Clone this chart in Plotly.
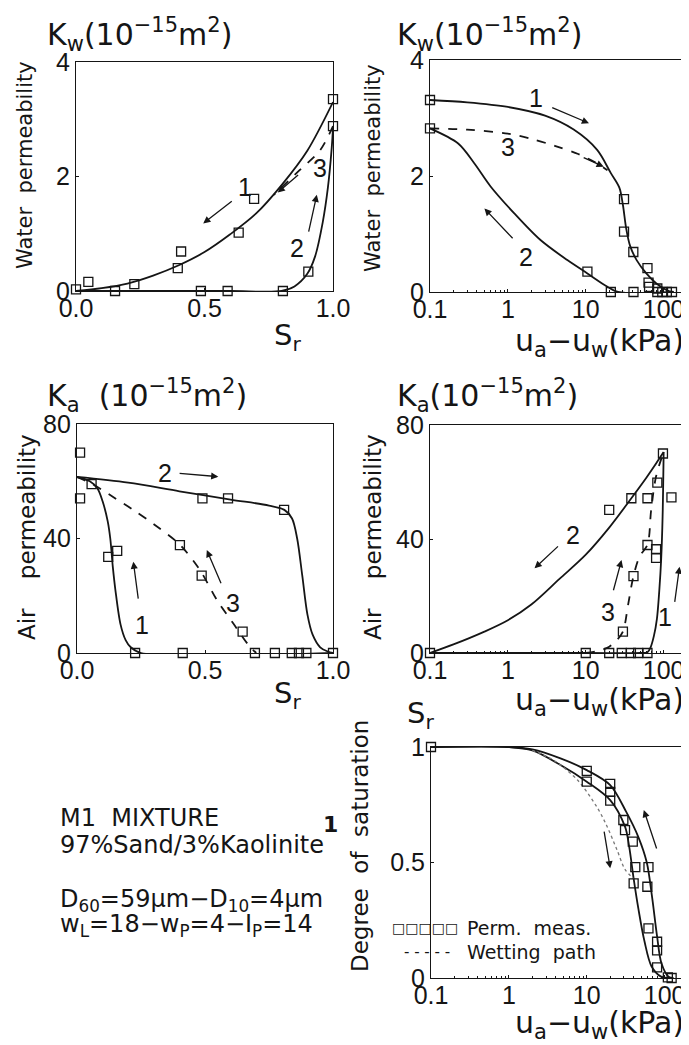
import math
import plotly.graph_objects as go

# page pixel frame of the reference picture
PAGE_W, PAGE_H = 689, 1045
BODY = 8  # default page margin around the plot div
W, H = PAGE_W - BODY, PAGE_H - BODY

# ---------------- Panel A: Kw vs Sr ----------------
a_meas_sr = [0.0, 0.048, 0.152, 0.227, 0.396, 0.409, 0.486, 0.59, 0.633, 0.693, 0.805, 0.904, 1.0, 1.0]
a_meas_k = [0.03, 0.16, 0.0, 0.12, 0.40, 0.69, 0.0, 0.0, 1.02, 1.61, 0.0, 0.34, 3.35, 2.88]
a_c1_sr = [0, 0.1, 0.2, 0.3, 0.4, 0.5, 0.6, 0.7, 0.8, 0.9, 1.0]
a_c1_k = [0, 0.05, 0.13, 0.27, 0.45, 0.68, 0.99, 1.35, 1.85, 2.45, 3.3]
a_c2_sr = [0, 0.3, 0.6, 0.8, 0.85, 0.9, 0.93, 0.96, 0.98, 0.995, 1.0]
a_c2_k = [0, 0, 0, 0, 0.08, 0.3, 0.6, 1.2, 1.8, 2.5, 2.85]
a_c3_sr = [1.0, 0.95, 0.87, 0.77]
a_c3_k = [2.88, 2.46, 2.11, 1.68]

# ---------------- Panel B: Kw vs suction ----------------
b_meas_s = [0.1, 0.1, 31, 31, 40.8, 62, 64, 65, 10.5, 21, 41, 83, 83, 96, 110, 128]
b_meas_k = [3.31, 2.82, 1.60, 1.04, 0.69, 0.41, 0.16, 0.09, 0.35, 0, 0, 0.06, 0, 0, 0, 0]
b_c1_s = [0.1, 0.3, 1, 3, 7, 14, 21, 27, 30, 33, 37, 45, 60, 80, 110, 135]
b_c1_k = [3.31, 3.27, 3.19, 3.04, 2.8, 2.45, 2.05, 1.8, 1.5, 1.1, 0.8, 0.55, 0.32, 0.15, 0.03, 0]
b_c2_s = [0.1, 0.23, 0.37, 0.6, 1.2, 2.6, 5.8, 10.5, 19, 26, 130]
b_c2_k = [2.82, 2.56, 2.22, 1.82, 1.36, 0.9, 0.55, 0.32, 0.09, 0.0, 0.0]
b_c3_s = [0.1, 0.3, 1, 2, 4, 8, 13, 19]
b_c3_k = [2.82, 2.8, 2.73, 2.64, 2.52, 2.38, 2.24, 2.1]

# ---------------- Panel C: Ka vs Sr ----------------
c_meas_sr = [0.012, 0.012, 0.057, 0.122, 0.157, 0.227, 0.402, 0.413, 0.487, 0.49, 0.59, 0.647, 0.695, 0.773, 0.809, 0.839, 0.867, 0.896, 1.0]
c_meas_k = [70, 54, 59, 33.6, 35.7, 0, 37.7, 0, 27, 54, 54, 7.5, 0, 0, 50, 0, 0, 0, 0]
c_c1_sr = [0, 0.05, 0.08, 0.1, 0.12, 0.13, 0.14, 0.15, 0.17, 0.19, 0.21, 0.25, 1.0]
c_c1_k = [61.5, 60, 57.5, 53, 46, 40, 30, 22, 10, 4.5, 2, 0, 0]
c_c2_sr = [0, 0.2, 0.4, 0.6, 0.75, 0.81, 0.84, 0.86, 0.88, 0.9, 0.92, 0.95, 0.98, 1.0]
c_c2_k = [61.5, 59.5, 56.5, 53.6, 51.5, 50, 47, 40, 27, 13.5, 6.5, 2, 0.5, 0]
c_c3_sr = [0, 0.06, 0.15, 0.22, 0.3, 0.4, 0.48, 0.55, 0.61, 0.67, 0.7]
c_c3_k = [61.5, 59, 54, 50, 45, 38, 29, 18, 10.4, 2.8, 0]

# ---------------- Panel D: Ka vs suction ----------------
d_meas_s = [0.1, 98, 83, 38.5, 62, 126, 20, 62, 80, 80, 41, 30, 10, 20, 29, 38, 47, 62]
d_meas_k = [0, 70, 59.8, 54.3, 54.3, 54.6, 50.2, 37.9, 36.4, 33.4, 27, 7.5, 0, 0, 0, 0, 0, 0]
d_c1_s = [0.1, 10, 50, 62, 68, 75, 82, 88, 93, 97, 100]
d_c1_k = [0, 0, 0, 0.3, 2, 6, 12, 22, 33, 48, 70.5]
d_c2_s = [0.1, 0.2, 0.5, 1, 2, 4.6, 10, 20, 38.5, 60, 80, 100]
d_c2_k = [0, 3, 7.5, 11.5, 17, 26, 34.5, 44, 54.3, 61.5, 66.5, 70.5]
d_c3_s = [10, 15, 20, 25, 30, 35, 41, 49, 62, 69, 80, 100]
d_c3_k = [0, 0.8, 2.2, 4.5, 7.5, 17, 27, 33.8, 38, 50, 62, 70.5]

# ---------------- Panel E: Sr vs suction ----------------
e_meas_s = [0.1, 10, 10, 20, 20, 20, 29.5, 31, 39, 42, 40, 62, 60, 62, 80, 80, 80, 110, 123]
e_meas_sr = [1.0, 0.897, 0.85, 0.84, 0.806, 0.768, 0.684, 0.64, 0.59, 0.48, 0.41, 0.48, 0.395, 0.215, 0.157, 0.12, 0.046, 0.003, 0.0]
e_dry_s = [0.1, 1, 2, 4.6, 10, 20, 32, 46, 59, 69, 80, 91, 112, 130]
e_dry_sr = [1, 1, 0.99, 0.951, 0.9, 0.835, 0.72, 0.61, 0.5, 0.35, 0.18, 0.064, 0.006, 0]
e_wet_s = [0.1, 1, 2, 4.6, 10, 20, 31, 35, 40, 46, 55, 68, 90, 120]
e_wet_sr = [1, 1, 0.985, 0.922, 0.85, 0.77, 0.655, 0.57, 0.43, 0.3, 0.16, 0.05, 0.006, 0]
e_path_s = [2, 3.7, 7.6, 13.5, 18, 24.5, 31, 40]
e_path_sr = [0.985, 0.944, 0.857, 0.74, 0.66, 0.554, 0.47, 0.43]

lin_ticks = [0, 0.5, 1.0]
lin_ticktext = ["0.0", "0.5", "1.0"]
log_ticks = [0.1, 1, 10, 100]
log_ticktext = ["0.1", "1", "10", "100"]
log_minor = [m * 10.0 ** e for e in (-1, 0, 1) for m in range(2, 10)] + [200]

INK = "#151515"
FONT = "DejaVu Sans"
TICKFONT = "Liberation Sans"


def fx(px):
    return (px - BODY) / W


def fy(py):
    return 1 - (py - BODY) / H


fig = go.Figure()


def curve(x, y, xa, ya, dash="solid", color=INK, width=1.8):
    fig.add_trace(go.Scatter(x=x, y=y, mode="lines", xaxis=xa, yaxis=ya,
                             line=dict(color=color, width=width, dash=dash, shape="spline", smoothing=0.9),
                             showlegend=False, hoverinfo="skip", cliponaxis=False))


def meas(x, y, xa, ya):
    fig.add_trace(go.Scatter(x=x, y=y, mode="markers", xaxis=xa, yaxis=ya,
                             marker=dict(symbol="square-open", size=9, color=INK, line=dict(width=1.3, color=INK)),
                             showlegend=False, hoverinfo="skip", cliponaxis=False))


# Panel A
curve(a_c1_sr, a_c1_k, "x", "y")
curve(a_c2_sr, a_c2_k, "x", "y")
curve(a_c3_sr, a_c3_k, "x", "y", dash="dash")
meas(a_meas_sr, a_meas_k, "x", "y")
# Panel B
curve(b_c1_s, b_c1_k, "x2", "y2")
curve(b_c2_s, b_c2_k, "x2", "y2")
curve(b_c3_s, b_c3_k, "x2", "y2", dash="dash")
meas(b_meas_s, b_meas_k, "x2", "y2")
# Panel C
curve(c_c1_sr, c_c1_k, "x3", "y3")
curve(c_c2_sr, c_c2_k, "x3", "y3")
curve(c_c3_sr, c_c3_k, "x3", "y3", dash="dash")
meas(c_meas_sr, c_meas_k, "x3", "y3")
# Panel D
curve(d_c1_s, d_c1_k, "x4", "y4")
curve(d_c2_s, d_c2_k, "x4", "y4")
curve(d_c3_s, d_c3_k, "x4", "y4", dash="dash")
meas(d_meas_s, d_meas_k, "x4", "y4")
# Panel E
curve(e_dry_s, e_dry_sr, "x5", "y5")
curve(e_wet_s, e_wet_sr, "x5", "y5")
curve(e_path_s, e_path_sr, "x5", "y5", dash="dot", color="#777", width=1.3)
meas(e_meas_s, e_meas_sr, "x5", "y5")

domains = {
    1: ((76, 333), (62, 291)),
    2: ((430, 687), (60, 292)),
    3: ((77, 333), (424, 653)),
    4: ((430, 687), (425, 653)),
    5: ((431, 688), (747, 978)),
}

layout = dict(width=W, height=H, autosize=False,
              margin=dict(l=0, r=0, t=0, b=0, pad=0, autoexpand=False),
              paper_bgcolor="white", plot_bgcolor="white", showlegend=False,
              font=dict(family=FONT, color=INK))

yranges = {1: [0, 4], 2: [0, 4], 3: [0, 80], 4: [0, 80], 5: [0, 1]}
yticks = {1: [0, 2, 4], 2: [0, 2, 4], 3: [0, 40, 80], 4: [0, 40, 80], 5: [0, 0.5, 1]}
yticktext = {1: ["0", "2", "4"], 2: ["0", "2", "4"], 3: ["0", "40", "80"], 4: ["0", "40", "80"], 5: ["0", "0.5", "1"]}

for i, ((x0, x1), (y0, y1)) in domains.items():
    sfx = "" if i == 1 else str(i)
    is_log = i in (2, 4, 5)
    xa = dict(domain=[fx(x0), min(1.0, fx(x1))], anchor="y" + sfx, showgrid=False, zeroline=False,
              showline=True, linecolor=INK, linewidth=1.2, mirror=True, automargin=False,
              ticks="inside", ticklen=3, tickcolor=INK, ticklabelstandoff=-5,
              tickfont=dict(family=TICKFONT, size=25, color=INK))
    if is_log:
        xa.update(type="log", range=[-1, 2.3], tickvals=log_ticks, ticktext=log_ticktext,
                  minor=dict(tickmode="array", tickvals=log_minor, ticks="inside", ticklen=2,
                             tickcolor=INK, showgrid=False))
    else:
        xa.update(range=[0, 1.0], tickvals=lin_ticks, ticktext=lin_ticktext)
    ya = dict(domain=[fy(y1), fy(y0)], anchor="x" + sfx, showgrid=False, zeroline=False,
              showline=True, linecolor=INK, linewidth=1.2, mirror=True, automargin=False,
              ticks="inside", ticklen=3, tickcolor=INK, range=yranges[i],
              tickvals=yticks[i], ticktext=yticktext[i],
              tickfont=dict(family=TICKFONT, size=25, color=INK))
    layout["xaxis" + sfx] = xa
    layout["yaxis" + sfx] = ya

fig.update_layout(**layout)

ann = []


def ptext(text, px, py, size, xanchor="left", yanchor="middle", angle=0, family=FONT):
    ann.append(dict(text=text, x=fx(px), y=fy(py), xref="paper", yref="paper",
                    xanchor=xanchor, yanchor=yanchor, showarrow=False, textangle=angle,
                    font=dict(family=family, size=size, color=INK)))


KW = "K<sub>w</sub>(10<sup>−15</sup>m<sup>2</sup>)"
ptext(KW, 45, 35, 30)
ptext(KW, 395, 35, 30)
ptext("K<sub>a</sub>  (10<sup>−15</sup>m<sup>2</sup>)", 45, 395, 30)
ptext("K<sub>a</sub>(10<sup>−15</sup>m<sup>2</sup>)", 395, 395, 30)
ptext("S<sub>r</sub>", 405, 715, 29)

UAW = "u<sub>a</sub>−u<sub>w</sub>(kPa)"
ptext("S<sub>r</sub>", 287, 337, 29, xanchor="center")
ptext(UAW, 686, 342, 30, xanchor="right")
ptext("S<sub>r</sub>", 287, 695, 29, xanchor="center")
ptext(UAW, 686, 701, 30, xanchor="right")
ptext(UAW, 686, 1024, 30, xanchor="right")

ptext("Water  permeability", 25, 165, 21, xanchor="center", angle=-90)
ptext("Water  permeability", 373, 168, 21, xanchor="center", angle=-90)
ptext("Air    permeability", 27, 537, 23, xanchor="center", angle=-90)
ptext("Air    permeability", 373, 537, 23, xanchor="center", angle=-90)
ptext("Degree  of  saturation", 360, 846, 23, xanchor="center", angle=-90)

ptext("M1  MIXTURE", 58, 818, 24)
ptext("97%Sand/3%Kaolinite", 58, 845, 24)
ptext("<b>1</b>", 330, 824, 22, xanchor="center")
ptext("D<sub>60</sub>=59μm−D<sub>10</sub>=4μm", 58, 900, 24)
ptext("w<sub>L</sub>=18−w<sub>P</sub>=4−I<sub>P</sub>=14", 58, 925, 24)

ptext("□□□□□", 390, 928, 14)
ptext("Perm.  meas.", 465, 928, 19)
ptext("- - - - -", 402, 952, 15)
ptext("Wetting  path", 465, 952, 19)


def lx(v, log):
    return math.log10(v) if log else v


def label(text, x, y, xa, ya, log=False):
    ann.append(dict(text=text, x=lx(x, log), y=y, xref=xa, yref=ya, showarrow=False,
                    font=dict(family=TICKFONT, size=25, color=INK)))


def arrow(tail, head, xa, ya, log=False):
    ann.append(dict(text="", x=lx(head[0], log), y=head[1], ax=lx(tail[0], log), ay=tail[1],
                    xref=xa, yref=ya, axref=xa, ayref=ya, showarrow=True,
                    arrowhead=2, arrowsize=1.1, arrowwidth=1.3, arrowcolor=INK))


# Panel A labels/arrows
label("1", 0.658, 1.82, "x", "y")
arrow((0.612, 1.59), (0.495, 1.18), "x", "y")
label("2", 0.859, 0.75, "x", "y")
arrow((0.904, 1.01), (0.937, 1.68), "x", "y")
label("3", 0.95, 2.14, "x", "y")
arrow((0.87, 2.05), (0.785, 1.72), "x", "y")
# Panel B
label("1", 2.3, 3.34, "x2", "y2", True)
arrow((3.55, 3.19), (11, 2.91), "x2", "y2", True)
label("3", 1.0, 2.5, "x2", "y2", True)
arrow((9, 2.33), (17, 2.16), "x2", "y2", True)
label("2", 1.7, 0.61, "x2", "y2", True)
arrow((1.2, 0.9), (0.5, 1.44), "x2", "y2", True)
# Panel C
label("2", 0.344, 62.8, "x3", "y3")
arrow((0.395, 62.8), (0.552, 61.6), "x3", "y3")
label("1", 0.253, 9.8, "x3", "y3")
arrow((0.24, 18.5), (0.22, 31.9), "x3", "y3")
label("3", 0.61, 17.4, "x3", "y3")
arrow((0.565, 23.8), (0.507, 36), "x3", "y3")
# Panel D
label("2", 6.9, 41.4, "x4", "y4", True)
arrow((4.6, 37.9), (2.2, 29.7), "x4", "y4", True)
label("3", 19.3, 14.5, "x4", "y4", True)
arrow((22.4, 21.5), (28.8, 32.6), "x4", "y4", True)
label("1", 103, 12.7, "x4", "y4", True)
arrow((138, 17.4), (160, 30.3), "x4", "y4", True)
# Panel E
arrow((16.6, 0.64), (20, 0.475), "x5", "y5", True)
arrow((80, 0.554), (54, 0.727), "x5", "y5", True)

fig.update_layout(annotations=ann)
fig.write_html("out.html")
